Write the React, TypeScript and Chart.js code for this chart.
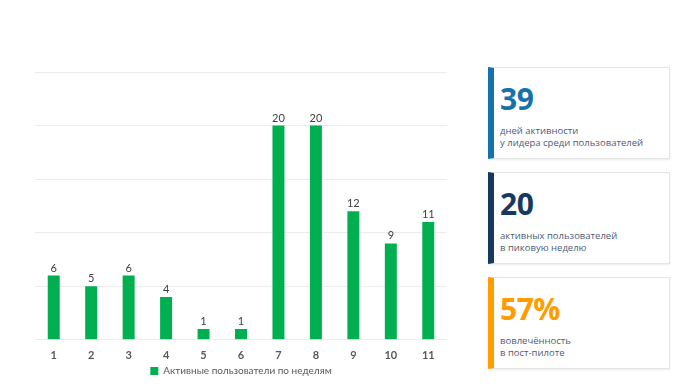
import React, { useEffect, useRef } from "react";
import { Chart, registerables } from "chart.js";

Chart.register(...registerables);

const weeks = ["1", "2", "3", "4", "5", "6", "7", "8", "9", "10", "11"];
const activeUsers = [6, 5, 6, 4, 1, 1, 20, 20, 12, 9, 11];
const seriesLabel = "Активные пользователи по неделям";

const cardValues = ["39", "20", "57%"];
const cardLines = [
  ["дней активности", "у лидера среди пользователей"],
  ["активных пользователей", "в пиковую неделю"],
  ["вовлечённость", "в пост-пилоте"],
];
const cardColors = ["#1572ad", "#163a5f", "#ff9c00"];

const GREEN = "#00b050";

const valueLabels = {
  id: "valueLabels",
  afterDatasetsDraw(chart: any) {
    const ctx = chart.ctx;
    const meta = chart.getDatasetMeta(0);
    ctx.save();
    ctx.font = "11px Lato, 'Open Sans', sans-serif";
    ctx.fillStyle = "#404040";
    ctx.textAlign = "center";
    ctx.textBaseline = "bottom";
    meta.data.forEach((bar: any, i: number) => {
      ctx.fillText(String(chart.data.datasets[0].data[i]), bar.x, bar.y - 2);
    });
    ctx.restore();
  },
};

function BarChart() {
  const ref = useRef<HTMLCanvasElement | null>(null);
  useEffect(() => {
    if (!ref.current) return;
    const chart = new Chart(ref.current, {
      type: "bar",
      data: {
        labels: weeks,
        datasets: [
          {
            label: seriesLabel,
            data: activeUsers,
            backgroundColor: GREEN,
            barPercentage: 0.32,
            categoryPercentage: 1,
          },
        ],
      },
      options: {
        animation: false,
        responsive: true,
        maintainAspectRatio: false,
        layout: { padding: { left: 35, right: 23, top: 72, bottom: 0 } },
        plugins: {
          tooltip: { enabled: false },
          legend: {
            position: "bottom",
            labels: {
              boxWidth: 8,
              boxHeight: 8,
              padding: 3,
              color: "#595959",
              font: { size: 10, family: "Lato, 'Open Sans', sans-serif" },
            },
          },
        },
        scales: {
          x: {
            grid: { display: false },
            border: { display: false },
            ticks: {
              color: "#595959",
              padding: 1,
              font: { size: 11, weight: "bold", family: "Lato, 'Open Sans', sans-serif" },
            },
          },
          y: {
            min: 0,
            max: 25,
            ticks: { display: false, stepSize: 5 },
            border: { display: false },
            grid: { color: "#ececec", drawTicks: false },
          },
        },
      },
      plugins: [valueLabels],
    });
    return () => chart.destroy();
  }, []);
  return (
    <div style={{ position: "absolute", left: 0, top: 0, width: 470, height: 386 }}>
      <canvas ref={ref} />
    </div>
  );
}

function StatCard({ i, top }: { i: number; top: number }) {
  return (
    <div
      style={{
        position: "absolute",
        left: 488,
        top,
        width: 182,
        height: 92,
        boxSizing: "border-box",
        background: "#fff",
        border: "1px solid #e4e4e4",
        borderLeft: `6px solid ${cardColors[i]}`,
        boxShadow: "0 1px 2px rgba(0,0,0,0.08)",
        fontFamily: "'Open Sans', sans-serif",
      }}
    >
      <div
        style={{
          position: "absolute",
          left: 6,
          top: 14,
          fontSize: 30,
          fontWeight: 700,
          lineHeight: "34px",
          color: cardColors[i],
          letterSpacing: -0.5,
        }}
      >
        {cardValues[i]}
      </div>
      <div
        style={{
          position: "absolute",
          left: 6,
          top: 57,
          fontSize: 9.5,
          lineHeight: "12px",
          color: "#4d5b75",
          whiteSpace: "nowrap",
        }}
      >
        {cardLines[i].map((t, k) => (
          <div key={k}>{t}</div>
        ))}
      </div>
    </div>
  );
}

export default function App() {
  return (
    <div style={{ position: "absolute", left: 0, top: 0, width: 690, height: 386, background: "#fff" }}>
      <BarChart />
      <StatCard i={0} top={67} />
      <StatCard i={1} top={172} />
      <StatCard i={2} top={277} />
    </div>
  );
}
